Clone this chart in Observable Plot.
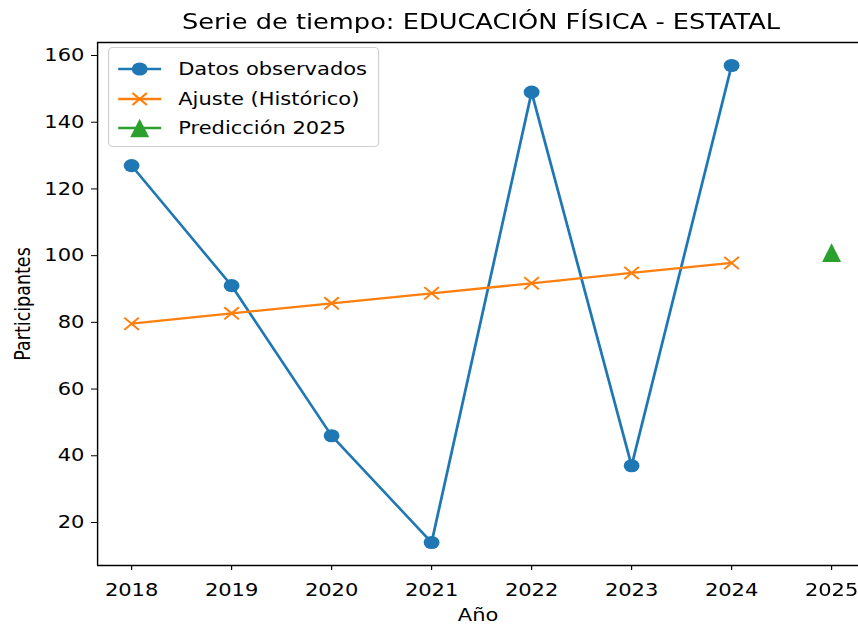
<!DOCTYPE html>
<html>
<head>
<meta charset="utf-8">
<script src="https://cdn.jsdelivr.net/npm/d3@7"></script>
<script src="https://cdn.jsdelivr.net/npm/@observablehq/plot@0.6"></script>
<style>
  html, body { margin: 0; background: #fff; font-family: "DejaVu Sans", sans-serif; overflow: hidden; }
  #outer { width: 858px; height: 627px; overflow: hidden; position: relative; }
  #wrap { position: absolute; left: 0; top: 0; width: 715px; height: 627px;
          transform: scaleX(1.2); transform-origin: 0 0; }
  #title { position: absolute; left: 0; top: 0; width: 801.7px; height: 36px; text-align: center;
           font-size: 21.4px; line-height: 43px; color: #000; white-space: nowrap; }
  #chart { position: absolute; left: 0; top: 36px; }
  #legend { position: absolute; left: 90px; top: 47px; width: 224px; height: 98px;
            border: 1px solid #d0d0d0; border-radius: 4px; background: rgba(255,255,255,0.85); }
  #legend svg { position: absolute; left: 0; top: 0; }
  .lt { position: absolute; left: 57.5px; font-size: 17.5px; color: #000; white-space: nowrap; line-height: 20px; }
</style>
</head>
<body>
<div id="outer">
<div id="wrap">
  <div id="title">Serie de tiempo: EDUCACIÓN FÍSICA - ESTATAL</div>
  <div id="chart"></div>
  <div id="legend"></div>
</div>
</div>
<script>
const years = [2018, 2019, 2020, 2021, 2022, 2023, 2024];
const observed = [127, 91, 46, 14, 149, 37, 157];
const fitted = [79.6, 82.7, 85.7, 88.7, 91.7, 94.8, 97.8];
const predYear = [2025];
const predValue = [100.9];
const xTicks = [2018, 2019, 2020, 2021, 2022, 2023, 2024, 2025];
const yTicks = [20, 40, 60, 80, 100, 120, 140, 160];
const seriesNames = ["Datos observados", "Ajuste (Histórico)", "Predicción 2025"];
const colors = ["#1f77b4", "#ff7f0e", "#2ca02c"];

const obsData = years.map((y, i) => ({year: y, value: observed[i]}));
const fitData = years.map((y, i) => ({year: y, value: fitted[i]}));
const predData = predYear.map((y, i) => ({year: y, value: predValue[i]}));

const xDomain = [2017.66, 2025.27];
const yDomain = [7.1, 163.9];

// matplotlib-like "^" triangle (narrowed to compensate the horizontal stretch)
const triUp = {
  draw(ctx, size) {
    const s = Math.sqrt(size / Math.PI);
    ctx.moveTo(0, -s);
    ctx.lineTo(0.85 * s, s);
    ctx.lineTo(-0.85 * s, s);
    ctx.closePath();
  }
};

const chart = Plot.plot({
  width: 715,
  height: 591,
  marginLeft: 80.83,
  marginRight: 0,
  marginTop: 6,
  marginBottom: 62,
  style: {fontFamily: "DejaVu Sans, sans-serif", fontSize: "17.5px", color: "#000", background: "#fff", overflow: "visible"},
  x: {domain: xDomain},
  y: {domain: yDomain},
  marks: [
    Plot.axisX(xTicks, {tickFormat: d => String(d), tickSize: 5, tickPadding: 13, fontSize: 17.5,
      label: "Año", labelAnchor: "center", labelArrow: "none", labelOffset: 55}),
    Plot.axisY(yTicks, {tickSize: 5, tickPadding: 6, fontSize: 17.5,
      label: "Participantes", labelAnchor: "center", labelArrow: "none", labelOffset: 69}),
    Plot.ruleX([xDomain[0]], {stroke: "#000", strokeWidth: 1.2}),
    Plot.ruleY([yDomain[0], yDomain[1]], {stroke: "#000", strokeWidth: 1.3}),
    Plot.line(obsData, {x: "year", y: "value", stroke: colors[0], strokeWidth: 2.3}),
    Plot.dot(obsData, {x: "year", y: "value", r: 6.6, fill: colors[0], stroke: "none"}),
    Plot.line(fitData, {x: "year", y: "value", stroke: colors[1], strokeWidth: 2.3}),
    Plot.dot(fitData, {x: "year", y: "value", symbol: "times", r: 5.6, stroke: colors[1], strokeWidth: 1.8}),
    Plot.dot(predData, {x: "year", y: "value", symbol: triUp, r: 9.3, fill: colors[2], stroke: "none"})
  ]
});
document.getElementById("chart").appendChild(chart);

// Legend
const legend = document.getElementById("legend");
const ns = "http://www.w3.org/2000/svg";
const lsvg = document.createElementNS(ns, "svg");
lsvg.setAttribute("width", 58);
lsvg.setAttribute("height", 98);
const rowY = [21, 51, 80];
const markers = ["circle", "times", "triangle"];
rowY.forEach((ry, i) => {
  const ln = document.createElementNS(ns, "line");
  ln.setAttribute("x1", 7.5); ln.setAttribute("x2", 43.3);
  ln.setAttribute("y1", ry); ln.setAttribute("y2", ry);
  ln.setAttribute("stroke", colors[i]); ln.setAttribute("stroke-width", 2.3);
  lsvg.appendChild(ln);
  const cx = 25.4;
  if (markers[i] === "circle") {
    const c = document.createElementNS(ns, "circle");
    c.setAttribute("cx", cx); c.setAttribute("cy", ry); c.setAttribute("r", 6.6);
    c.setAttribute("fill", colors[i]);
    lsvg.appendChild(c);
  } else if (markers[i] === "times") {
    const p = document.createElementNS(ns, "path");
    const s = 6;
    p.setAttribute("d", `M${cx-s},${ry-s}L${cx+s},${ry+s}M${cx-s},${ry+s}L${cx+s},${ry-s}`);
    p.setAttribute("stroke", colors[i]); p.setAttribute("stroke-width", 1.8);
    lsvg.appendChild(p);
  } else {
    const p = document.createElementNS(ns, "path");
    const s = 9.3;
    p.setAttribute("d", `M${cx},${ry-s}L${cx+0.85*s},${ry+s}L${cx-0.85*s},${ry+s}Z`);
    p.setAttribute("fill", colors[i]);
    lsvg.appendChild(p);
  }
  const t = document.createElement("div");
  t.className = "lt";
  t.style.top = (ry - 10) + "px";
  t.textContent = seriesNames[i];
  legend.appendChild(t);
});
legend.appendChild(lsvg);
</script>
</body>
</html>
